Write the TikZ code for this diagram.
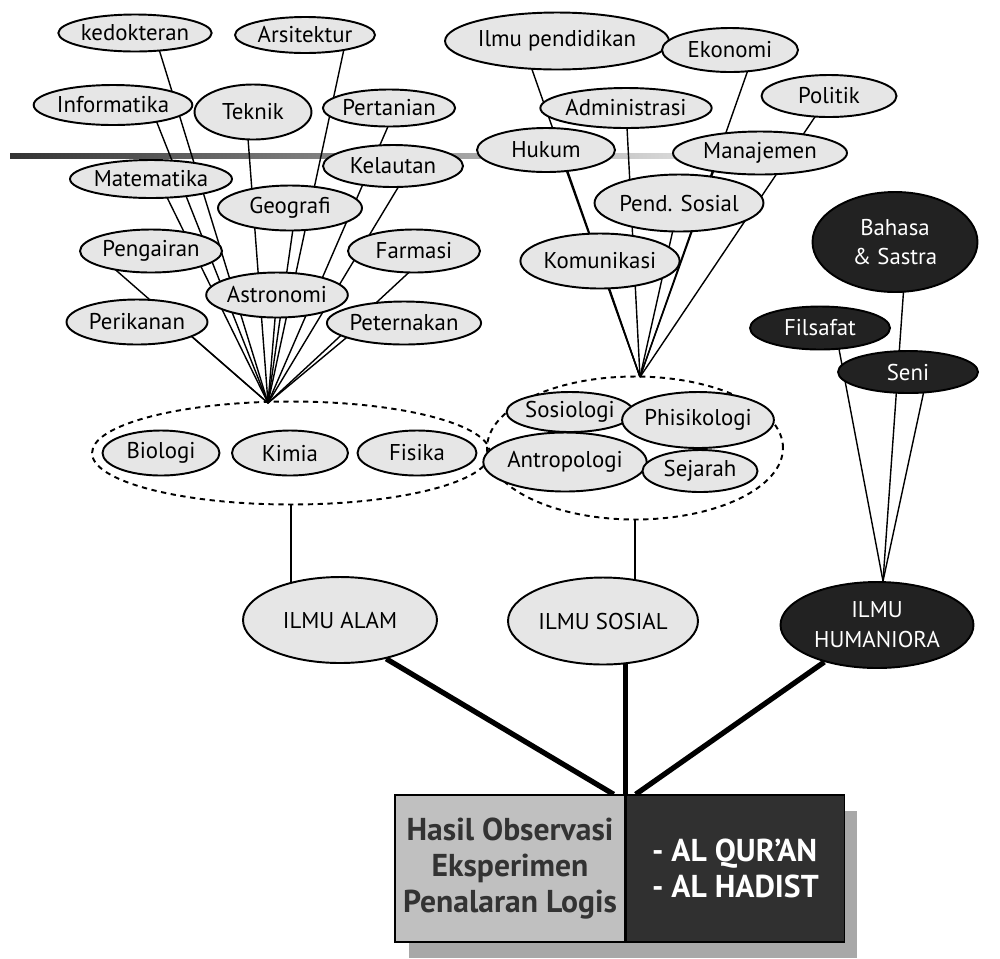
\documentclass[tikz,border=0pt]{standalone}
\usepackage{fontspec}
\setmainfont{PT Sans}
\usepackage{xcolor}
\usepackage{tikz}
\usetikzlibrary{shapes,arrows,positioning,calc,fit,backgrounds}
\definecolor{fieldfill}{HTML}{E6E6E6}
\definecolor{darkfill}{HTML}{222222}
\definecolor{obsfill}{HTML}{C0C0C0}
\definecolor{revfill}{HTML}{303030}
\definecolor{shadowfill}{HTML}{A8A8A8}
\definecolor{obstext}{HTML}{333333}

\begin{document}
\begin{tikzpicture}[
    x=0.02cm, y=-0.02cm,
    field/.style={ellipse, draw, fill=fieldfill, line width=1.1pt, inner sep=0pt, align=center, font=\fontsize{13}{17}\selectfont},
    dark/.style={field, fill=darkfill, text=white},
    group/.style={ellipse, draw, line width=1.1pt, dash pattern=on 3pt off 2.6pt, inner sep=0pt},
    part/.style={rectangle, draw, line width=0.8pt, inner sep=0pt, minimum height=2.94cm, font=\fontsize{18}{20.5}\selectfont\bfseries},
    link/.style={line width=0.8pt},
    trunk/.style={line width=3pt}
]
    \useasboundingbox (0,0) rectangle (1000,958);

    % Groups
    \node[group, minimum width=7.96cm, minimum height=2.06cm] (alamgrp) at (291,453) {};
    \node[group, minimum width=5.92cm, minimum height=2.86cm] (sosgrp) at (635,448) {};

    % Ilmu alam
    \node[field, minimum width=2.34cm, minimum height=0.9cm] (bio) at (161,453) {Biologi};
    \node[field, minimum width=2.32cm, minimum height=0.9cm] (kim) at (290,453) {Kimia};
    \node[field, minimum width=2.38cm, minimum height=0.9cm] (fis) at (417,453) {Fisika};

    \node[field, minimum width=2.68cm, minimum height=0.74cm] (ked) at (135,33) {kedokteran};
    \node[field, minimum width=2.8cm, minimum height=0.72cm] (ars) at (305,35) {Arsitektur};
    \node[field, minimum width=2.8cm, minimum height=0.8cm] (inf) at (113,105) {Informatika};
    \node[field, minimum width=2.34cm, minimum height=1.1cm] (tek) at (253,112) {Teknik};
    \node[field, minimum width=2.64cm, minimum height=0.74cm] (per) at (389,108) {Pertanian};
    \node[field, minimum width=2.8cm, minimum height=0.84cm] (kel) at (393,166) {Kelautan};
    \node[field, minimum width=2.84cm, minimum height=0.76cm] (mat) at (151,179) {Matematika};
    \node[field, minimum width=2.88cm, minimum height=0.9cm] (geo) at (290,208) {Geografi};
    \node[field, minimum width=2.84cm, minimum height=0.86cm] (pen) at (151,251) {Pengairan};
    \node[field, minimum width=2.64cm, minimum height=0.86cm] (far) at (414,251) {Farmasi};
    \node[field, minimum width=2.82cm, minimum height=0.9cm] (ast) at (277,295) {Astronomi};
    \node[field, minimum width=2.82cm, minimum height=0.9cm] (pri) at (137,322) {Perikanan};
    \node[field, minimum width=2.76cm, minimum height=0.86cm] (ptr) at (404,323) {Peternakan};

    % Ilmu sosial
    \node[field, minimum width=2.3cm, minimum height=0.8cm] (sosio) at (570,412) {Sosiologi};
    \node[field, minimum width=2.34cm, minimum height=1.12cm] (psiko) at (698,420) {Phisikologi};
    \node[field, minimum width=2.52cm, minimum height=1.18cm] (antro) at (565,462) {Antropologi};
    \node[field, minimum width=2.3cm, minimum height=0.84cm] (sej) at (700,471) {Sejarah};

    \node[field, minimum width=3.76cm, minimum height=1.14cm] (pdd) at (557,41) {Ilmu pendidikan};
    \node[field, minimum width=2.72cm, minimum height=0.88cm] (eko) at (730,50) {Ekonomi};
    \node[field, minimum width=2.7cm, minimum height=0.84cm] (pol) at (829,96) {Politik};
    \node[field, minimum width=2.96cm, minimum height=0.8cm] (adm) at (626,108) {Administrasi};
    \node[field, minimum width=2.76cm, minimum height=0.88cm] (huk) at (546,150) {Hukum};
    \node[field, minimum width=3.48cm, minimum height=0.86cm] (man) at (760,153) {Manajemen};
    \node[field, minimum width=3.24cm, minimum height=1.14cm] (pso) at (679,203) {Pend. Sosial};
    \node[field, minimum width=3.0cm, minimum height=1.1cm] (kom) at (600,261) {Komunikasi};

    % Humaniora
    \node[dark, minimum width=3.3cm, minimum height=2.0cm] (bhs) at (895,242) {Bahasa\\\& Sastra};
    \node[dark, minimum width=2.8cm, minimum height=0.86cm] (fil) at (820,328) {Filsafat};
    \node[dark, minimum width=2.8cm, minimum height=0.84cm] (seni) at (908,372) {Seni};

    % Cabang
    \node[field, minimum width=3.88cm, minimum height=1.72cm] (alam) at (340,620) {ILMU ALAM};
    \node[field, minimum width=3.8cm, minimum height=1.74cm] (sosial) at (603,621) {ILMU SOSIAL};
    \node[dark, minimum width=3.86cm, minimum height=1.72cm] (hum) at (877,625) {ILMU\\HUMANIORA};

    % Sumber
    \node[part, fill=obsfill, text=obstext, minimum width=4.6cm, align=center] (obs) at (510,868.5) {Hasil Observasi\\Eksperimen\\Penalaran Logis};
    \node[part, fill=revfill, text=white, minimum width=4.36cm, align=left, right=0pt of obs] (rev) {- AL QUR’AN\\- AL HADIST};

    \coordinate (alamhub) at (268,403);
    \coordinate (soshub) at (640,377);
    \coordinate (humhub) at ($(hum.north)+(6,0)$);

    % Edges
    \begin{scope}[on background layer]
        \shade[left color=black!80, right color=black!15] (10,153) rectangle (680,158);
        \fill[shadowfill] ($(obs.south west)+(15,15)$) rectangle ($(rev.north east)+(12,17)$);

        \draw[link] ($(ked.center)+(19,0)$) -- (alamhub);
        \draw[link] ($(ars.center)+(42,0)$) -- (alamhub);
        \draw[link] ($(inf.center)+(37,0)$) -- (alamhub);
        \draw[link] ($(tek.center)+(-7,0)$) -- (alamhub);
        \draw[link] ($(per.center)+(7,0)$) -- (alamhub);
        \draw[link] ($(kel.center)+(18,0)$) -- (alamhub);
        \draw[link] ($(mat.center)+(7,0)$) -- (alamhub);
        \draw[link] ($(geo.center)+(6,0)$) -- (alamhub);
        \draw[link] ($(pen.center)+(-57,0)$) -- (alamhub);
        \draw[link] ($(far.center)+(18,0)$) -- (alamhub);
        \draw[link] (ast.center) -- (alamhub);
        \draw[link] ($(pri.center)+(38,0)$) -- (alamhub);
        \draw[link] ($(ptr.center)+(-40,0)$) -- (alamhub);

        \draw[link] ($(pdd.center)+(-35,0)$) -- (soshub);
        \draw[link] ($(eko.center)+(25,0)$) -- (soshub);
        \draw[link] (pol.center) -- (soshub);
        \draw[link] (adm.center) -- (soshub);
        \draw[link] ($(huk.center)+(13,0)$) -- (soshub);
        \draw[link] ($(man.center)+(-40,0)$) -- (soshub);
        \draw[link] (pso.center) -- (soshub);
        \draw[link] (kom.center) -- (soshub);

        \draw[link] ($(bhs.center)+(12,0)$) -- (humhub);
        \draw[link] ($(fil.center)+(15,0)$) -- (humhub);
        \draw[link] ($(seni.center)+(20,0)$) -- (humhub);

        \draw[link] (alamgrp.south) -- (alamgrp.south |- alam.center);
        \draw[link] (sosgrp.south) -- (sosgrp.south |- sosial.center);

        \draw[trunk] (alam.-40) -- ($(obs.north east)+(-12,0)$);
        \draw[trunk] (obs.north east |- sosial.center) -- (obs.north east);
        \draw[trunk] (hum) -- ($(obs.north east)+(10,0)$);
    \end{scope}

\end{tikzpicture}
\end{document}
